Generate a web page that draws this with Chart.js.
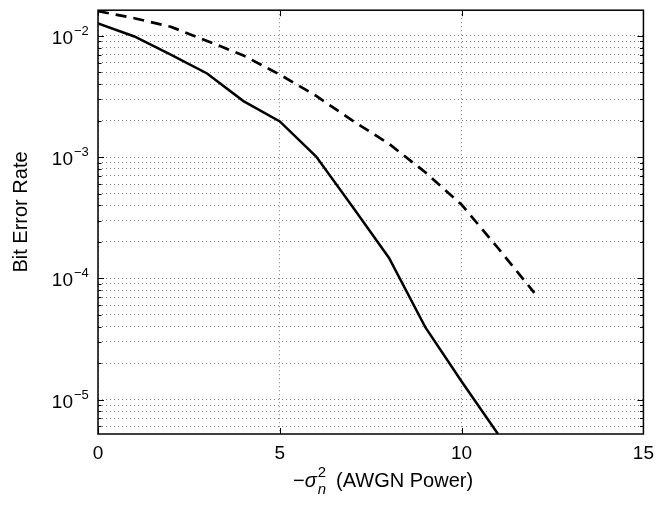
<!DOCTYPE html>
<html>
<head>
<meta charset="utf-8">
<script src="https://cdn.jsdelivr.net/npm/chart.js@4/dist/chart.umd.min.js"></script>
<style>
    html, body { margin: 0; padding: 0; background: #fff; }
</style>
</head>
<body>
<canvas id="berChart" width="662" height="505"></canvas>
<script>
// Noise power steps and measured bit error rates
const noisePower = [0, 1, 2, 3, 4, 5, 6, 7, 8, 9, 10, 11, 12];
const berSolid = [0.0127, 0.0099, 0.0070, 0.0049, 0.0029, 0.00197, 0.00101, 0.00039, 0.000148, 0.0000396, 0.0000141, 0.0000052];
const berDashed = [0.0160, 0.0140, 0.0119, 0.0091, 0.0069, 0.0048, 0.0032, 0.0020, 0.00129, 0.00075, 0.000405, 0.000178, 0.000076];

// Axis ticks
const xTicks = [0, 5, 10, 15];
const yDecades = [-6, -5, -4, -3, -2];
const yMin = 5.2e-6;
const yMax = 1.63e-2;

const FONT = '"Liberation Sans", Arial, Helvetica, sans-serif';

// Log grid: 1..9 times each decade
const yTicks = [];
yDecades.forEach(d => {
    for (let m = 1; m <= 9; m++) {
        const v = m * Math.pow(10, d);
        if (v >= yMin && v <= yMax) yTicks.push({ value: v, major: m === 1, exp: d });
    }
});

function toPoints(values) {
    return values.map((v, i) => ({ x: noisePower[i], y: v }));
}

// Box, inward tick marks, power-of-ten labels and axis titles
const axesDecor = {
    id: 'axesDecor',
    afterDraw(chart) {
        const { ctx, chartArea: a, scales: { x, y } } = chart;
        ctx.save();
        ctx.strokeStyle = '#000';
        ctx.fillStyle = '#000';

        ctx.lineWidth = 1;
        ctx.beginPath();
        yTicks.forEach(t => {
            const py = Math.round(y.getPixelForValue(t.value)) + 0.5;
            const len = t.major ? 6 : 3.5;
            ctx.moveTo(a.left, py); ctx.lineTo(a.left + len, py);
            ctx.moveTo(a.right, py); ctx.lineTo(a.right - len, py);
        });
        xTicks.forEach(v => {
            const px = Math.round(x.getPixelForValue(v)) + 0.5;
            ctx.moveTo(px, a.bottom); ctx.lineTo(px, a.bottom - 6);
            ctx.moveTo(px, a.top); ctx.lineTo(px, a.top + 6);
        });
        ctx.stroke();

        ctx.lineWidth = 1.5;
        ctx.strokeRect(a.left, a.top, a.right - a.left, a.bottom - a.top);

        // y tick labels as 10 with a raised exponent
        yTicks.filter(t => t.major).forEach(t => {
            const py = y.getPixelForValue(t.value);
            ctx.font = '19px ' + FONT;
            ctx.textAlign = 'right';
            ctx.textBaseline = 'alphabetic';
            ctx.fillText('10', 73, py + 8);
            ctx.font = '13px ' + FONT;
            ctx.textAlign = 'left';
            ctx.fillText('\u2212' + Math.abs(t.exp), 74, py - 1);
        });

        // y title
        ctx.font = '20px ' + FONT;
        ctx.textAlign = 'center';
        ctx.save();
        ctx.translate(27, 212);
        ctx.rotate(-Math.PI / 2);
        ctx.fillText('Bit Error Rate', 0, 0);
        ctx.restore();

        // x title: -sigma_n^2 (AWGN Power)
        const base = 487;
        let cx = 293;
        ctx.textAlign = 'left';
        ctx.font = '20px ' + FONT;
        ctx.fillText('\u2212', cx, base);
        cx += ctx.measureText('\u2212').width;
        ctx.font = 'italic 20px ' + FONT;
        ctx.fillText('\u03c3', cx, base);
        cx += ctx.measureText('\u03c3').width + 1;
        ctx.font = '15px ' + FONT;
        ctx.fillText('2', cx, base - 10);
        const w2 = ctx.measureText('2').width;
        ctx.font = 'italic 15px ' + FONT;
        ctx.fillText('n', cx, base + 7);
        cx += Math.max(w2, ctx.measureText('n').width) + 10;
        ctx.font = '20px ' + FONT;
        ctx.fillText('(AWGN Power)', cx, base);

        ctx.restore();
    }
};

new Chart(document.getElementById('berChart').getContext('2d'), {
    type: 'line',
    data: {
        datasets: [
            {
                data: toPoints(berSolid),
                borderColor: '#000',
                borderWidth: 2.5,
                pointRadius: 0,
                tension: 0
            },
            {
                data: toPoints(berDashed),
                borderColor: '#000',
                borderWidth: 2.7,
                borderDash: [11, 7],
                pointRadius: 0,
                tension: 0
            }
        ]
    },
    options: {
        responsive: false,
        animation: false,
        devicePixelRatio: 1,
        layout: { padding: { top: 5, right: 18, left: 0, bottom: 0 } },
        plugins: { legend: { display: false }, tooltip: { enabled: false } },
        scales: {
            x: {
                type: 'linear',
                min: 0,
                max: 15,
                afterBuildTicks: s => { s.ticks = xTicks.map(v => ({ value: v })); },
                afterFit: s => { s.height = 71; },
                ticks: {
                    color: '#000',
                    padding: 8,
                    maxRotation: 0,
                    autoSkip: false,
                    font: { size: 19, family: FONT },
                    callback: v => String(v)
                },
                grid: { color: 'rgba(0,0,0,0.5)', lineWidth: 1, drawTicks: false },
                border: { display: false, dash: [1, 3] }
            },
            y: {
                type: 'logarithmic',
                min: yMin,
                max: yMax,
                afterBuildTicks: s => { s.ticks = yTicks.map(t => ({ value: t.value, major: t.major })); },
                afterFit: s => { s.width = 98; },
                ticks: { display: true, autoSkip: false, callback: () => '' },
                grid: { color: 'rgba(0,0,0,0.5)', lineWidth: 1, drawTicks: false },
                border: { display: false, dash: [1, 3] }
            }
        }
    },
    plugins: [axesDecor]
});
</script>
</body>
</html>
